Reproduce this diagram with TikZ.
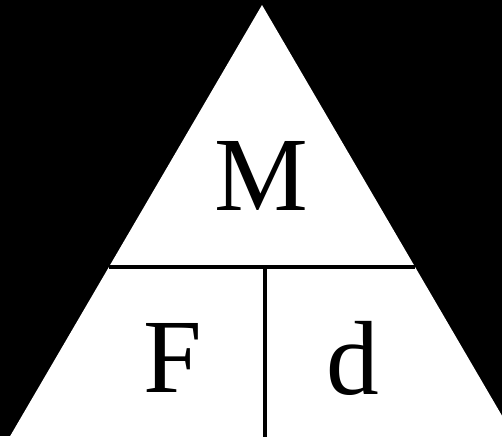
\documentclass[tikz,border=0pt]{standalone}
\usepackage{fontspec}
\setmainfont{Liberation Serif}
\usetikzlibrary{calc}

\begin{document}
\begin{tikzpicture}[x=0.02cm, y=-0.02cm,
  sep/.style={line width=2.3pt, draw=black},
  lbl/.style={anchor=base, inner sep=0pt, font=\fontsize{60}{60}\selectfont}
]
% frame and black ground
\useasboundingbox (0,0) rectangle (502,436);
\fill[black] (0,0) rectangle (502,436);
\clip (0,0) rectangle (502,436);
% triangle corners
\coordinate (apex) at (262,5);
\coordinate (bl) at (2,450);
\coordinate (br) at (522,450);
\fill[white] (apex) -- (bl) -- (br) -- cycle;
% dividers
\coordinate (dl) at ($(apex)!0.589!(bl)$);
\coordinate (dr) at ($(apex)!0.589!(br)$);
\coordinate (vt) at (265,267);
\coordinate (vb) at (265,450);
\draw[sep] (dl) -- (dr);
\draw[sep] (vt) -- (vb);
% letters
\node[lbl] (M) at (261,210) {M};
\node[lbl] (F) at (173,392) {F};
\node[lbl] (d) at (353,394) {d};
\end{tikzpicture}
\end{document}
